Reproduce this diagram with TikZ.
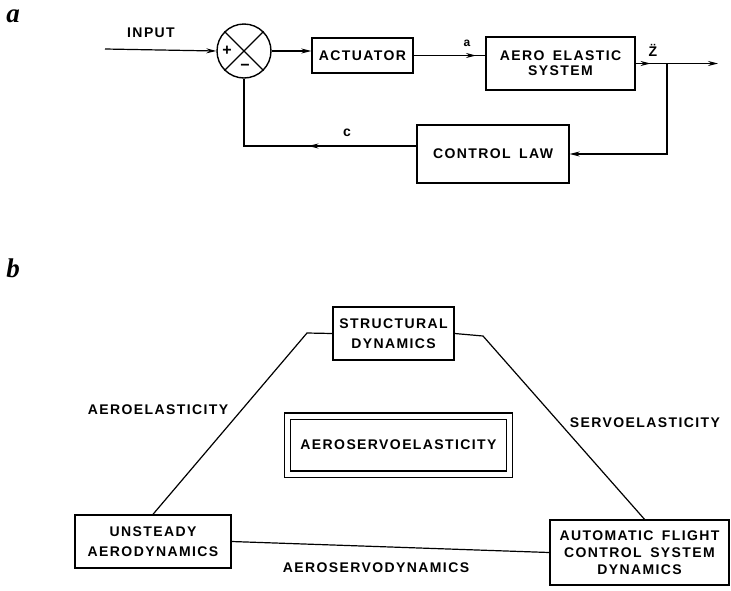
\documentclass[tikz,border=0pt]{standalone}
\usepackage{fontspec}
\setmainfont{Liberation Sans}
\newfontfamily\lf[LetterSpace=10,WordSpace=1.6]{Liberation Sans}
\newfontfamily\pl{Liberation Serif}
\usetikzlibrary{arrows.meta,decorations.markings}
\newcommand\lab{\lf\bfseries\fontsize{14}{17}\selectfont}
\newcommand\smlab{\lf\bfseries\fontsize{12}{12}\selectfont}
\newcommand\panel{\pl\bfseries\itshape\fontsize{27}{27}\selectfont}
\begin{document}
\begin{tikzpicture}[x=1pt,y=-1pt,
  box/.style={draw,line width=1.4pt,inner sep=0pt,align=center,font=\lab},
  lbl/.style={inner sep=0pt,font=\lab},
  conn/.style={line width=1.2pt},
  tip/.style={-{Stealth[length=10pt,width=5pt]}},
  arr/.style={postaction={decorate,decoration={markings,mark=at position #1 with {\arrow{Stealth[length=10pt,width=5pt]}}}}}]
\useasboundingbox (0,0) rectangle (731,590);
% panel letters
\node[inner sep=0pt,font=\panel] (pa) at (13,16) {a};
\node[inner sep=0pt,font=\panel] (pb) at (13,268) {b};
% ---------- part a ----------
\node[lbl] (inl) at (151,33) {INPUT};
\coordinate (in) at (105,49);
\node[draw,circle,line width=1.4pt,minimum size=54pt,inner sep=0pt] (sum) at (244,51) {};
\draw[line width=1.3pt] (sum.north west) -- (sum.south east) (sum.north east) -- (sum.south west);
\node[inner sep=0pt,font=\lab\fontsize{16}{16}\selectfont] (plus) at (227,51) {+};
\node[inner sep=0pt,font=\lab\fontsize{16}{16}\selectfont] (minus) at (245,67) {−};
\node[box,minimum width=101pt,minimum height=35pt] (act) at (362.5,55.5) {ACTUATOR};
\node[box,minimum width=149pt,minimum height=53pt] (aes) at (560.5,63.5) {AERO ELASTIC\\[-2pt]SYSTEM};
\node[box,minimum width=152pt,minimum height=58pt] (cl) at (493,154) {CONTROL LAW};
\draw[conn,tip] (in) -- (sum.west);
\draw[conn,tip] (sum.east) -- (sum.east -| act.west);
\draw[conn,arr=0.87] (act.east) -- (act.east -| aes.west);
\node[inner sep=0pt,font=\smlab] (alab) at (467,43) {a};
\coordinate (br) at (667,63.5);
\coordinate (out) at (718,63.5);
\draw[conn,arr=0.18,tip] (aes.east) -- (out);
\node[lbl] (zl) at (653,50) {Z̈};
\draw[conn,tip] (br) |- (cl.east);
\draw[conn,arr=0.45] ([yshift=8pt]cl.west) -| (sum.south);
\node[lbl] (cla) at (347,133) {c};
% ---------- part b ----------
\node[box,minimum width=121pt,minimum height=53pt] (sd) at (393.5,333.5) {STRUCTURAL\\[3pt]DYNAMICS};
\node[box,minimum width=156pt,minimum height=53pt] (ua) at (153,541.5) {UNSTEADY\\[3pt]AERODYNAMICS};
\node[box,minimum width=179pt,minimum height=65pt] (af) at (639.5,552.5) {AUTOMATIC FLIGHT\\CONTROL SYSTEM\\DYNAMICS};
\node[box,double,double distance=5pt,minimum width=222pt,minimum height=58pt] (ase) at (398.5,445) {AEROSERVOELASTICITY};
\coordinate (sl) at (307,333);
\coordinate (sr) at (483,336);
\draw[conn] (sd.west) -- (sl) -- (ua.north);
\draw[conn] (sd.east) -- (sr) -- ([xshift=5pt]af.north);
\draw[conn] (ua.east) -- (af.west);
\node[lbl] (ae) at (158,410) {AEROELASTICITY};
\node[lbl] (se) at (645,423) {SERVOELASTICITY};
\node[lbl] (asd) at (376,568) {AEROSERVODYNAMICS};
\end{tikzpicture}
\end{document}
